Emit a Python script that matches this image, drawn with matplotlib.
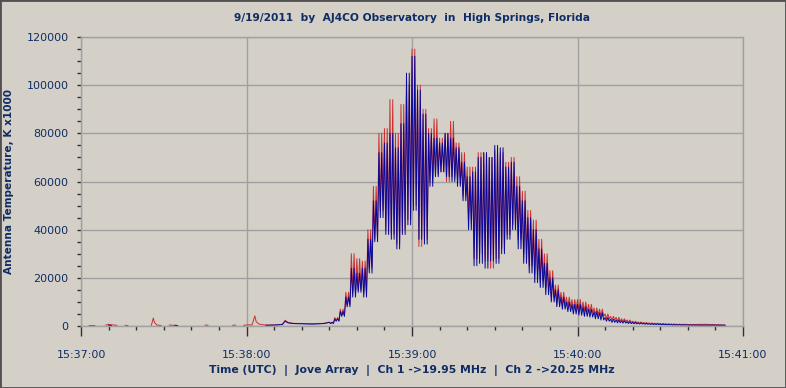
import matplotlib
matplotlib.use("Agg")
import matplotlib.pyplot as plt
import numpy as np
from matplotlib.patches import Rectangle
from matplotlib.ticker import MultipleLocator, FuncFormatter

nan = np.nan

# seconds after 15:37:00, values in K
# quiet part before the burst (gaps are missing samples)
red_pre_t = [3, 5, nan, 9, 10, 11, 13, nan, 16, 17, nan, 25.5, 26.2, 26.6, 27.5, 29, nan,
             32, 33, 35, nan, 45, 46, nan, 55, 56, nan, 59, 61, 62, 63, 63.5, 64.5, 66,
             67, 70, 73, 74, 75, 77, 80, 84, 88, 90]
red_pre_v = [200, 150, nan, 400, 700, 500, 300, nan, 300, 200, nan, 300, 3300, 1500, 400, 200, nan,
             400, 300, 200, nan, 400, 300, nan, 300, 400, nan, 300, 500, 400, 4200, 1800, 800, 500,
             400, 400, 700, 2400, 1500, 1100, 1000, 900, 1100, 1600]
blue_pre_t = [10, 11, nan, 34, 35, nan, 67, 70, 73, 74, 75, 77, 80, 84, 88, 90]
blue_pre_v = [300, 200, nan, 300, 200, nan, 300, 400, 600, 2000, 1300, 1000, 900, 800, 1000, 1500]

# burst: upper / lower swing in each 2 s window from t=90 to t=232, in thousands
burst_t = list(range(90, 233, 2))
blue_hi = [1.5, 3, 6, 12, 24,  22, 24, 36, 52, 72,  76, 80, 74, 84, 105,
           112, 98, 88, 80, 78,  76, 80, 78, 74, 68,  62, 64, 70, 72, 70,
           75, 74, 66, 68, 58,  52, 45, 40, 32, 26,  20, 15, 12, 10, 9,
           9, 8, 7, 6, 5.5,  3.5, 2.8, 2.5, 2.2, 1.8,  1.5, 1.3, 1.1, 1.0, 0.9,
           0.8, 0.7, 0.6, 0.6, 0.5,  0.5, 0.5, 0.4, 0.4, 0.4,  0.4, 0.4]
blue_lo = [1.0, 2, 4, 8, 12,  14, 12, 22, 35, 45,  38, 36, 32, 38, 42,
           48, 36, 34, 58, 62,  64, 62, 60, 58, 52,  40, 25, 26, 24, 27,
           26, 30, 36, 40, 32,  26, 22, 18, 16, 13,  10, 8, 7, 6, 5,
           4.5, 4, 3.7, 3, 2.5,  2, 1.5, 1.3, 1.2, 1.0,  0.9, 0.8, 0.7, 0.6, 0.6,
           0.5, 0.5, 0.4, 0.4, 0.4,  0.3, 0.3, 0.3, 0.3, 0.3,  0.3, 0.3]
red_hi = [1.6, 3.5, 7, 14, 30,  28, 27, 40, 58, 80,  82, 94, 80, 92, 100,
          115, 100, 90, 82, 86,  78, 80, 85, 76, 72,  66, 66, 72, 72, 70,
          73, 72, 68, 70, 62,  56, 48, 44, 36, 30,  23, 17, 14, 12, 11,
          11, 10, 9, 7.5, 7,  5, 4, 3.6, 3, 2.5,  2, 1.7, 1.5, 1.3, 1.2,
          1.1, 1.0, 0.9, 0.8, 0.8,  0.7, 0.7, 0.8, 0.8, 0.7,  0.6, 0.5]
red_lo = [1.1, 2.2, 4.5, 9, 14,  15, 14, 24, 36, 48,  40, 38, 34, 40, 44,
          50, 33, 36, 60, 63,  64, 60, 62, 60, 54,  44, 28, 30, 27, 24,
          28, 32, 38, 42, 36,  30, 25, 22, 19, 16,  12, 10, 9, 8, 7,
          6.5, 6, 5.5, 4.5, 4,  3, 2.5, 2, 1.8, 1.5,  1.3, 1.1, 1.0, 0.9, 0.8,
          0.7, 0.6, 0.6, 0.5, 0.5,  0.5, 0.5, 0.5, 0.5, 0.5,  0.4, 0.3]

x_ticks = [0, 60, 120, 180, 240]
x_labels = ['15:37:00', '15:38:00', '15:39:00', '15:40:00', '15:41:00']


def swing(t, hi, lo, n=2):
    # each 2 s window drawn as n up/down swings between its upper and lower reading
    t = np.asarray(t, float)
    step = 2.0 / (2 * n)
    xs = (t[:, None] + np.arange(2 * n) * step).ravel()
    ys = np.tile([1, 0], n)[None, :] * np.asarray(hi)[:, None] + \
        np.tile([0, 1], n)[None, :] * np.asarray(lo)[:, None]
    return xs, ys.ravel() * 1000


bg = '#D4D0C8'
navy = '#0F2D64'

fig = plt.figure(figsize=(7.86, 3.88), dpi=100, facecolor=bg)
ax = fig.add_axes([0.1031, 0.1598, 0.8422, 0.7448], facecolor=bg)

rx, ry = swing(burst_t, red_hi, red_lo)
bx, by = swing(burst_t, blue_hi, blue_lo)
ax.plot(np.r_[red_pre_t, rx], np.r_[red_pre_v, ry], color='#CC3030', lw=0.7)
ax.plot(np.r_[blue_pre_t, bx], np.r_[blue_pre_v, by], color='#08089A', lw=0.7)

ax.set_xlim(0, 240)
ax.set_ylim(0, 120000)
ax.set_xticks(x_ticks)
ax.set_xticklabels(x_labels)
ax.xaxis.set_minor_locator(MultipleLocator(10))
ax.yaxis.set_major_locator(MultipleLocator(20000))
ax.yaxis.set_minor_locator(MultipleLocator(5000))
ax.yaxis.set_major_formatter(FuncFormatter(lambda v, p: f'{v:.0f}'))

ax.grid(True, which='major', color='#A0A0A0', lw=1)
ax.set_axisbelow(True)
for s in ax.spines.values():
    s.set_color('#A0A0A0')
    s.set_linewidth(1)

ax.tick_params(axis='x', which='major', length=7, width=1, color='#303030',
               pad=10, labelsize=8, labelcolor=navy)
ax.tick_params(axis='x', which='minor', length=3, width=1, color='#303030')
ax.tick_params(axis='y', which='major', length=3, width=1, color='#303030',
               pad=6, labelsize=8, labelcolor=navy)
ax.tick_params(axis='y', which='minor', length=3, width=1, color='#303030')

ax.set_xlabel('Time (UTC)  |  Jove Array  |  Ch 1 ->19.95 MHz  |  Ch 2 ->20.25 MHz',
              fontsize=7.8, fontweight='bold', color=navy, labelpad=4)
ax.set_ylabel('Antenna Temperature, K x1000', fontsize=7.6, fontweight='bold',
              color=navy, labelpad=9)
fig.text(412 / 786, 1 - 18 / 388, '9/19/2011  by  AJ4CO Observatory  in  High Springs, Florida',
         ha='center', va='center', fontsize=7.7, fontweight='bold', color=navy)

fig.patches.append(Rectangle((0, 0), 1, 1, transform=fig.transFigure, fill=False,
                             edgecolor='#505050', lw=2))

fig.savefig('out.png', dpi=100, facecolor=bg)
